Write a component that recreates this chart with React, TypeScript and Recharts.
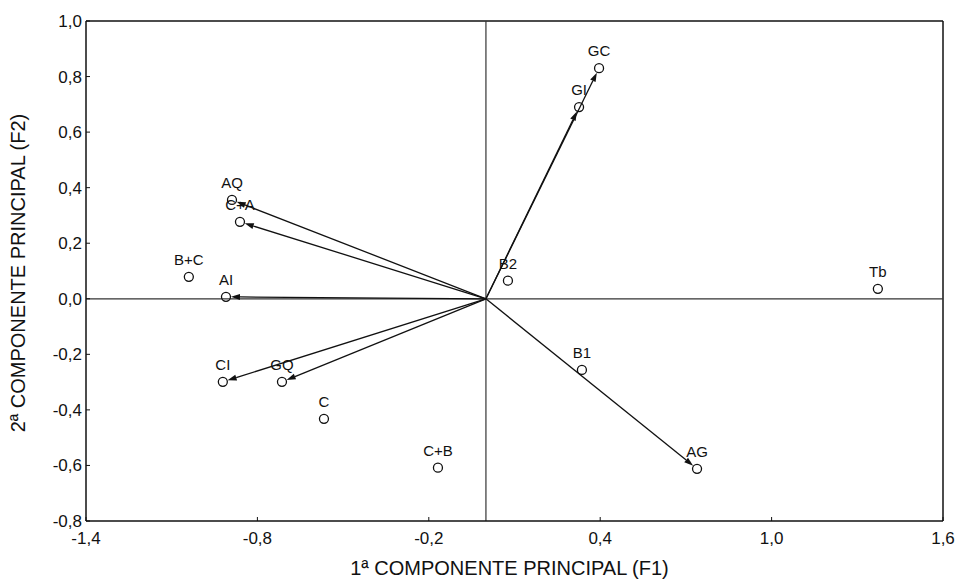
import React from "react";
import {
  ScatterChart,
  Scatter,
  XAxis,
  YAxis,
  ReferenceLine,
  Label,
} from "recharts";

// variable names and scores on the first two principal components
const names = ["GC", "GI", "B2", "Tb", "B1", "AG", "C+B", "C", "GQ", "CI", "AI", "B+C", "AQ", "C+A"];
const f1 = [0.396, 0.326, 0.077, 1.372, 0.336, 0.739, -0.168, -0.567, -0.714, -0.921, -0.91, -1.04, -0.889, -0.861];
const f2 = [0.83, 0.69, 0.065, 0.036, -0.256, -0.612, -0.608, -0.432, -0.299, -0.299, 0.007, 0.079, 0.356, 0.277];

// vectors drawn from the origin
const arrowTo = ["GC", "GI", "AQ", "C+A", "AI", "CI", "GQ", "AG"];

const xTicks = [-1.4, -0.8, -0.2, 0.4, 1.0, 1.6];
const yTicks = [-0.8, -0.6, -0.4, -0.2, 0, 0.2, 0.4, 0.6, 0.8, 1.0];

const points = names.map((name, i) => ({ name, x: f1[i], y: f2[i] }));

const fmt = (v: number) => v.toFixed(1).replace(".", ",");

const ink = "#111";

function ArrowShape(props: any) {
  const { x1, y1, x2, y2 } = props;
  const dx = x2 - x1;
  const dy = y2 - y1;
  const len = Math.hypot(dx, dy);
  const ux = dx / len;
  const uy = dy / len;
  const tx = x2 - ux * 5;
  const ty = y2 - uy * 5;
  const bx = tx - ux * 9;
  const by = ty - uy * 9;
  const px = -uy * 3;
  const py = ux * 3;
  return (
    <g>
      <line x1={x1} y1={y1} x2={bx} y2={by} stroke={ink} strokeWidth={1.3} />
      <polygon
        points={`${tx},${ty} ${bx + px},${by + py} ${bx - px},${by - py}`}
        fill={ink}
      />
    </g>
  );
}

function PointShape(props: any) {
  const { cx, cy, payload } = props;
  return (
    <g>
      <circle cx={cx} cy={cy} r={4.5} fill="none" stroke={ink} strokeWidth={1.3} />
      <text x={cx} y={cy - 12} textAnchor="middle" fontSize={15} fill={ink}>
        {payload.name}
      </text>
    </g>
  );
}

export default function App() {
  return (
    <div
      style={{
        position: "absolute",
        left: 0,
        top: 0,
        background: "#fff",
        fontFamily: "'Liberation Sans', Arial, sans-serif",
      }}
    >
      <ScatterChart
        width={958}
        height={580}
        margin={{ top: 21, right: 15, bottom: 0, left: 0 }}
      >
        <XAxis
          type="number"
          dataKey="x"
          domain={[-1.4, 1.6]}
          ticks={xTicks}
          tickFormatter={fmt}
          allowDataOverflow
          height={59}
          tickSize={-4}
          tickMargin={15}
          tickLine={{ stroke: ink, strokeWidth: 1 }}
          tick={{ fontSize: 17, fill: ink }}
          axisLine={{ stroke: ink, strokeWidth: 1.5 }}
        >
          <Label
            content={({ viewBox }: any) => (
              <text
                x={viewBox.x + viewBox.width / 2 - 5}
                y={viewBox.y + 54}
                textAnchor="middle"
                fontSize={20}
                fill={ink}
              >
                1ª COMPONENTE PRINCIPAL (F1)
              </text>
            )}
          />
        </XAxis>
        <YAxis
          type="number"
          dataKey="y"
          domain={[-0.8, 1.0]}
          ticks={yTicks}
          tickFormatter={fmt}
          allowDataOverflow
          width={86}
          tickSize={-4}
          tickMargin={8}
          tickLine={{ stroke: ink, strokeWidth: 1 }}
          tick={{ fontSize: 17, fill: ink }}
          axisLine={{ stroke: ink, strokeWidth: 1.5 }}
        >
          <Label
            content={({ viewBox }: any) => {
              const cx = viewBox.x + 25;
              const cy = viewBox.y + viewBox.height / 2 + 2;
              return (
                <text
                  x={cx}
                  y={cy}
                  transform={`rotate(-90 ${cx} ${cy})`}
                  textAnchor="middle"
                  fontSize={20}
                  fill={ink}
                >
                  2ª COMPONENTE PRINCIPAL (F2)
                </text>
              );
            }}
          />
        </YAxis>
        <ReferenceLine y={1.0} stroke={ink} strokeWidth={1.5} />
        <ReferenceLine x={1.6} stroke={ink} strokeWidth={1.5} />
        <ReferenceLine y={0} stroke="#333" strokeWidth={1.2} />
        <ReferenceLine x={0} stroke="#333" strokeWidth={1.2} />
        {arrowTo.map((name) => {
          const p = points.find((q) => q.name === name)!;
          return (
            <ReferenceLine
              key={name}
              segment={[
                { x: 0, y: 0 },
                { x: p.x, y: p.y },
              ]}
              shape={ArrowShape}
            />
          );
        })}
        <Scatter data={points} shape={PointShape} isAnimationActive={false} />
      </ScatterChart>
    </div>
  );
}
